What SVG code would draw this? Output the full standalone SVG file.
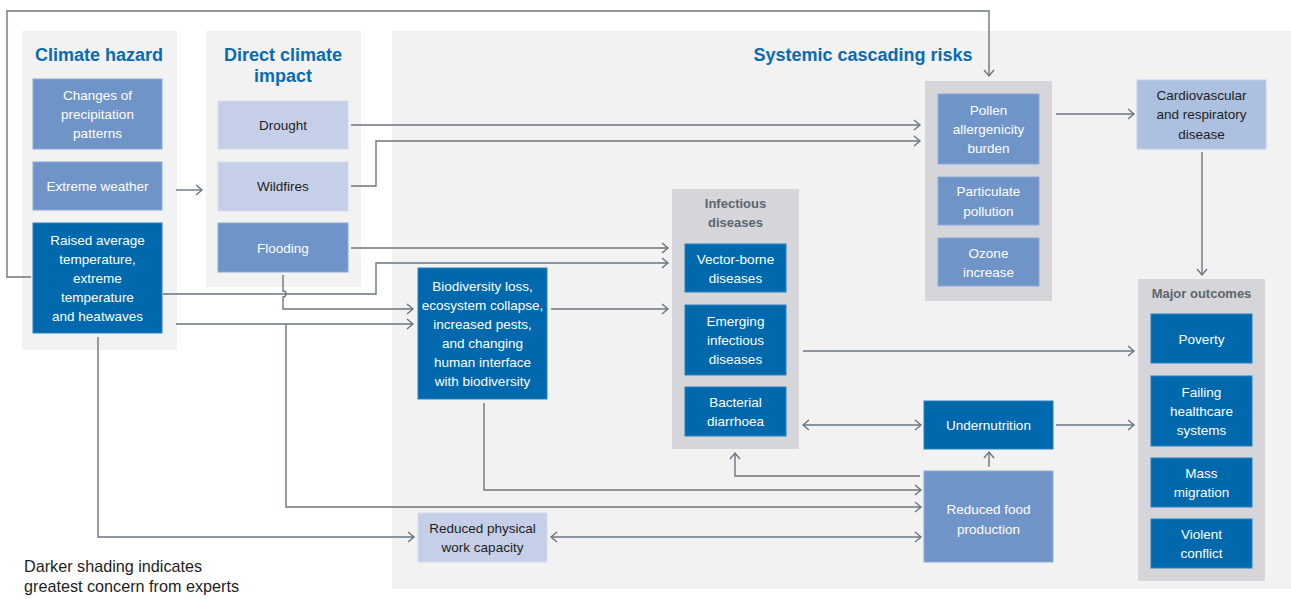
<svg xmlns="http://www.w3.org/2000/svg" width="1291" height="599" viewBox="0 0 1291 599">
<style>
.panel{fill:#f2f2f2}
.group{fill:#d5d5da}
.dark{fill:#0069ad;stroke:#2a80bd;stroke-width:1}
.mid{fill:#6f94c8;stroke:#8eaad6;stroke-width:1}
.light{fill:#c5d0e8;stroke:#d3dcee;stroke-width:1}
.cardio{fill:#adc0e0;stroke:#c0cfe8;stroke-width:1}
text{font-family:"Liberation Sans",Arial,sans-serif;text-anchor:middle}
.t{font-size:13.5px;fill:#ffffff}
.tk{font-size:13.5px;fill:#1e1e1e}
.h{font-size:18px;font-weight:bold;fill:#0a6ab4}
.g{font-size:13px;font-weight:bold;fill:#5b6670}
.note{font-size:16.2px;fill:#1e1e1e;text-anchor:start}
.c{fill:none;stroke:#6b757e;stroke-width:1.4}
</style>
<defs>
<marker id="arr" markerUnits="userSpaceOnUse" markerWidth="14" markerHeight="14" viewBox="-8 -7 10 14" refX="0" refY="0" orient="auto-start-reverse">
<path d="M-6,-5 L0,0 L-6,5" fill="none" stroke="#6b757e" stroke-width="1.4"/>
</marker>
</defs>

<rect class="panel" x="22" y="31" width="155" height="319"/>
<rect class="panel" x="206" y="31" width="155" height="256"/>
<rect class="panel" x="392" y="31" width="899" height="558"/>

<g id="title-hazard"><text class="h" x="99" y="61">Climate hazard</text></g>
<g id="title-direct"><text class="h" x="283" y="61">Direct climate</text><text class="h" x="283" y="82">impact</text></g>
<g id="title-systemic"><text class="h" x="863" y="61">Systemic cascading risks</text></g>

<g id="precipitation"><rect class="mid" x="33" y="79" width="129" height="70"/>
<text class="t" x="97.5" y="100">Changes of</text><text class="t" x="97.5" y="119">precipitation</text><text class="t" x="97.5" y="138">patterns</text></g>
<g id="extreme-weather"><rect class="mid" x="33" y="162" width="129" height="48"/>
<text class="t" x="97.5" y="191">Extreme weather</text></g>
<g id="raised-temperature"><rect class="dark" x="33" y="223" width="129" height="110"/>
<text class="t" x="97.5" y="245">Raised average</text><text class="t" x="97.5" y="264">temperature,</text><text class="t" x="97.5" y="283">extreme</text><text class="t" x="97.5" y="302">temperature</text><text class="t" x="97.5" y="321">and heatwaves</text></g>

<g id="drought"><rect class="light" x="218" y="101" width="130" height="48"/>
<text class="tk" x="283" y="130">Drought</text></g>
<g id="wildfires"><rect class="light" x="218" y="162" width="130" height="49"/>
<text class="tk" x="283" y="191">Wildfires</text></g>
<g id="flooding"><rect class="mid" x="218" y="223" width="130" height="49"/>
<text class="t" x="283" y="252.5">Flooding</text></g>

<g id="pollen-group"><rect class="group" x="925" y="81" width="127" height="220"/></g>
<g id="pollen"><rect class="mid" x="938" y="94" width="101" height="70"/>
<text class="t" x="988.5" y="115">Pollen</text><text class="t" x="988.5" y="134">allergenicity</text><text class="t" x="988.5" y="153">burden</text></g>
<g id="particulate"><rect class="mid" x="938" y="177" width="101" height="48"/>
<text class="t" x="988.5" y="196">Particulate</text><text class="t" x="988.5" y="215.5">pollution</text></g>
<g id="ozone"><rect class="mid" x="938" y="238" width="101" height="48"/>
<text class="t" x="988.5" y="257.5">Ozone</text><text class="t" x="988.5" y="276.5">increase</text></g>

<g id="cardio"><rect class="cardio" x="1137" y="80" width="129" height="69"/>
<text class="tk" x="1201.5" y="100">Cardiovascular</text><text class="tk" x="1201.5" y="119">and respiratory</text><text class="tk" x="1201.5" y="139">disease</text></g>

<g id="infectious-group"><rect class="group" x="672" y="189" width="127" height="260"/>
<text class="g" x="735.5" y="208">Infectious</text><text class="g" x="735.5" y="227">diseases</text></g>
<g id="vector-borne"><rect class="dark" x="685" y="244" width="101" height="48"/>
<text class="t" x="735.5" y="263.5">Vector-borne</text><text class="t" x="735.5" y="282.5">diseases</text></g>
<g id="emerging"><rect class="dark" x="685" y="305" width="101" height="70"/>
<text class="t" x="735.5" y="326">Emerging</text><text class="t" x="735.5" y="345">infectious</text><text class="t" x="735.5" y="364">diseases</text></g>
<g id="bacterial"><rect class="dark" x="685" y="387" width="101" height="49"/>
<text class="t" x="735.5" y="407">Bacterial</text><text class="t" x="735.5" y="426">diarrhoea</text></g>

<g id="biodiversity"><rect class="dark" x="418" y="268" width="129" height="131"/>
<text class="t" x="482.5" y="291">Biodiversity loss,</text><text class="t" x="482.5" y="310">ecosystem collapse,</text><text class="t" x="482.5" y="329">increased pests,</text><text class="t" x="482.5" y="348">and changing</text><text class="t" x="482.5" y="367">human interface</text><text class="t" x="482.5" y="386">with biodiversity</text></g>

<g id="undernutrition"><rect class="dark" x="924" y="401" width="129" height="48"/>
<text class="t" x="988.5" y="430">Undernutrition</text></g>
<g id="reduced-food"><rect class="mid" x="924" y="471" width="129" height="91"/>
<text class="t" x="988.5" y="514">Reduced food</text><text class="t" x="988.5" y="534">production</text></g>
<g id="reduced-physical"><rect class="light" x="418" y="513" width="129" height="49"/>
<text class="tk" x="482.5" y="533">Reduced physical</text><text class="tk" x="482.5" y="552">work capacity</text></g>

<g id="outcomes-group"><rect class="group" x="1138" y="279" width="127" height="302"/>
<text class="g" x="1201.5" y="298">Major outcomes</text></g>
<g id="poverty"><rect class="dark" x="1151" y="314" width="101" height="49"/>
<text class="t" x="1201.5" y="343.5">Poverty</text></g>
<g id="failing"><rect class="dark" x="1151" y="376" width="101" height="70"/>
<text class="t" x="1201.5" y="397">Failing</text><text class="t" x="1201.5" y="416">healthcare</text><text class="t" x="1201.5" y="435">systems</text></g>
<g id="migration"><rect class="dark" x="1151" y="458" width="101" height="49"/>
<text class="t" x="1201.5" y="478">Mass</text><text class="t" x="1201.5" y="497">migration</text></g>
<g id="conflict"><rect class="dark" x="1151" y="519" width="101" height="49"/>
<text class="t" x="1201.5" y="539">Violent</text><text class="t" x="1201.5" y="558">conflict</text></g>

<g id="connectors">
<path class="c" d="M31,277 H7 V11 H989 V76" marker-end="url(#arr)"/>
<path class="c" d="M176,190 H202" marker-end="url(#arr)"/>
<path class="c" d="M351,125 H920" marker-end="url(#arr)"/>
<path class="c" d="M351,186 H376 V141 H920" marker-end="url(#arr)"/>
<path class="c" d="M351,248 H668" marker-end="url(#arr)"/>
<path class="c" d="M163,294 H376 V263 H668" marker-end="url(#arr)"/>
<path class="c" d="M283,275 V291 A3,3 0 0 1 283,297 V309 H413" marker-end="url(#arr)"/>
<path class="c" d="M176,324 H413" marker-end="url(#arr)"/>
<path class="c" d="M286,324 V507 H921" marker-end="url(#arr)"/>
<path class="c" d="M551,309 H668" marker-end="url(#arr)"/>
<path class="c" d="M484,403 V490 H921" marker-end="url(#arr)"/>
<path class="c" d="M98,337 V537 H414" marker-end="url(#arr)"/>
<path class="c" d="M551,537 H921" marker-start="url(#arr)" marker-end="url(#arr)"/>
<path class="c" d="M803,425 H921" marker-start="url(#arr)" marker-end="url(#arr)"/>
<path class="c" d="M920,476 H735 V453" marker-end="url(#arr)"/>
<path class="c" d="M989,467 V452" marker-end="url(#arr)"/>
<path class="c" d="M803,351 H1134" marker-end="url(#arr)"/>
<path class="c" d="M1056,425 H1134" marker-end="url(#arr)"/>
<path class="c" d="M1056,114 H1134" marker-end="url(#arr)"/>
<path class="c" d="M1202,152 V275" marker-end="url(#arr)"/>
</g>

<g id="note"><text class="note" x="24" y="572">Darker shading indicates</text><text class="note" x="24" y="592">greatest concern from experts</text></g>
</svg>
